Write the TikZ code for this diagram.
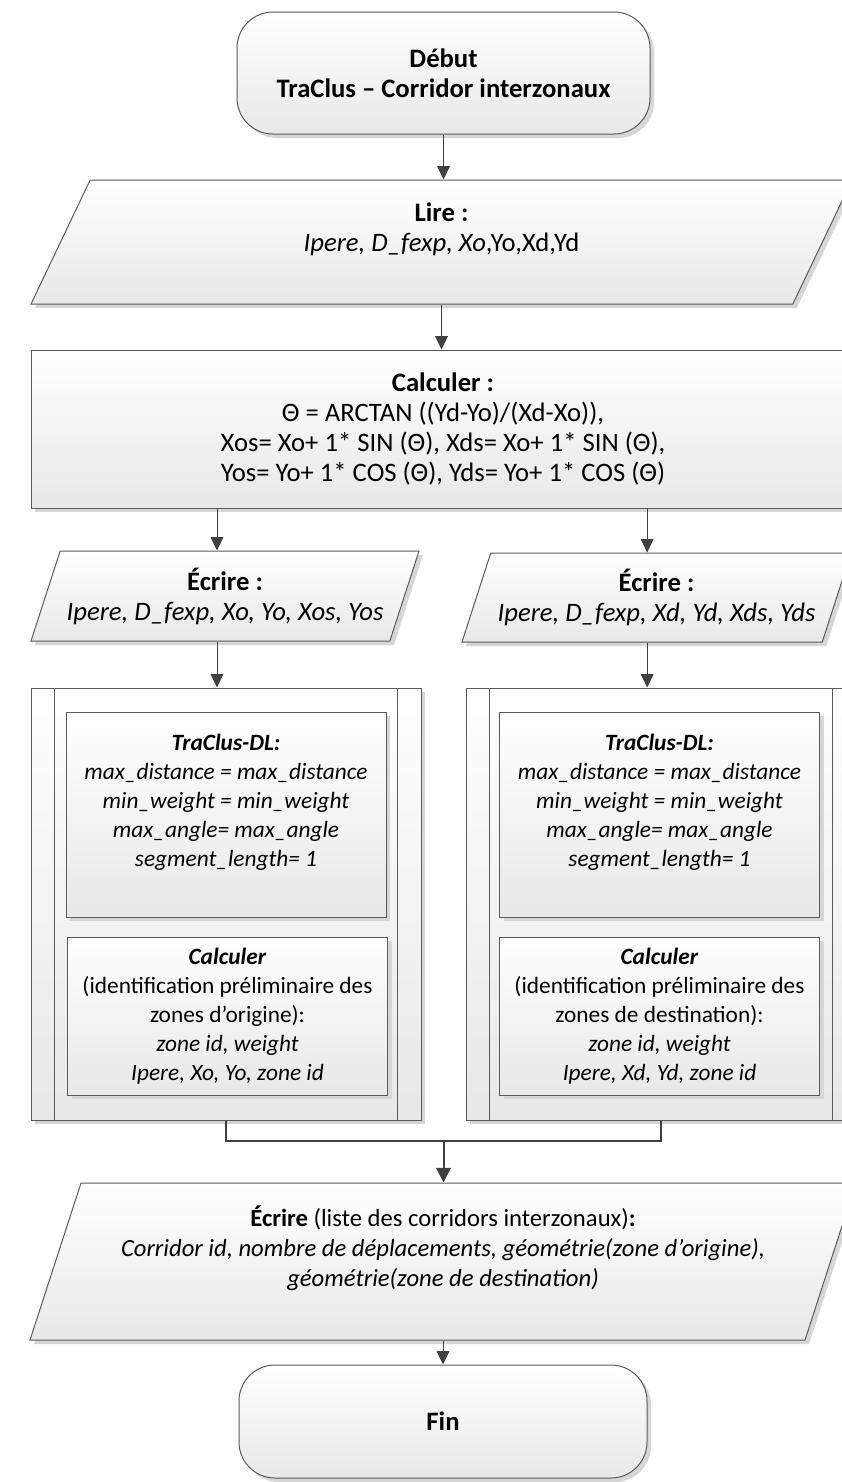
\documentclass[tikz,border=0pt]{standalone}
\usepackage{fontspec}
\setmainfont{Carlito}
\usetikzlibrary{arrows.meta,calc,shapes.geometric,shadows}
\definecolor{ink}{HTML}{000000}
\definecolor{edgegray}{HTML}{5A5A5A}
\definecolor{arrowgray}{HTML}{404040}
\definecolor{shadegray}{HTML}{E8E8E8}
\definecolor{shadowgray}{HTML}{D6D6D6}
\tikzset{
  box/.style={
    draw=edgegray,
    line width=0.75pt,
    top color=white,
    bottom color=shadegray,
    drop shadow={shadow xshift=3pt,shadow yshift=-3pt,fill=shadowgray,opacity=1},
    align=center,
    text=ink,
    inner sep=4pt,
    font=\fontsize{20}{22.5}\selectfont
  },
  terminal/.style={box,rounded corners=27pt,minimum width=309.75pt,minimum height=91.5pt},
  process/.style={box,minimum width=618pt,minimum height=118.5pt},
  io/.style={box,trapezium,trapezium stretches body,inner xsep=0pt,
    trapezium left angle=#1,trapezium right angle={180-#1}},
  subproc/.style={box,minimum width=292.5pt,minimum height=324pt},
  inner/.style={box,minimum width=240pt,font=\fontsize{17.5}{21.75}\selectfont},
  flow/.style={-{Triangle[length=10pt,width=9.5pt]},draw=arrowgray,line width=0.75pt},
  merge/.style={draw=arrowgray,line width=1.5pt},
  merge flow/.style={merge,-{Triangle[length=11pt,width=11pt]}}
}

\begin{document}
\begin{tikzpicture}[x=0.75pt,y=-0.75pt]
  \useasboundingbox (0,0) rectangle (842,1482);
  \clip (0,0) rectangle (842,1482);

  \node[terminal] (start) at (443.5,73)
    {\textbf{Début}\\\textbf{TraClus – Corridor interzonaux}};
  \node[io=56.5,minimum width=615.75pt,minimum height=93pt] (lire) at (441.5,242)
    {\textbf{Lire :}\\\textit{Ipere, D\_fexp, Xo},Yo,Xd,Yd\\\mbox{}};
  \node[process] (calc) at (443,429)
    {\textbf{Calculer :}\\
     Θ = ARCTAN ((Yd-Yo)/(Xd-Xo)),\\
     Xos= Xo+ 1* SIN (Θ), Xds= Xo+ 1* SIN (Θ),\\
     Yos= Yo+ 1* COS (Θ), Yds= Yo+ 1* COS (Θ)};

  \node[io=66.6,minimum width=291pt,minimum height=67.5pt] (ecrl) at (225,596)
    {\textbf{Écrire :}\\\textit{Ipere, D\_fexp, Xo, Yo, Xos, Yos}};
  \node[io=66.9,minimum width=291.75pt,minimum height=66.75pt] (ecrr) at (656.5,597.5)
    {\textbf{Écrire :}\\\textit{Ipere, D\_fexp, Xd, Yd, Xds, Yds}};

  \node[subproc] (subl) at (226,904) {};
  \node[subproc] (subr) at (661,904) {};
  \draw[draw=edgegray,line width=0.75pt]
    ([xshift=18pt]subl.north west) -- ([xshift=18pt]subl.south west);
  \draw[draw=edgegray,line width=0.75pt]
    ([xshift=-18pt]subl.north east) -- ([xshift=-18pt]subl.south east);
  \draw[draw=edgegray,line width=0.75pt]
    ([xshift=18pt]subr.north west) -- ([xshift=18pt]subr.south west);
  \draw[draw=edgegray,line width=0.75pt]
    ([xshift=-18pt]subr.north east) -- ([xshift=-18pt]subr.south east);

  \node[inner,minimum height=153.75pt] (dll) at (226,814.5)
    {\textbf{\textit{TraClus-DL:}}\\
     \textit{max\_distance = max\_distance}\\
     \textit{min\_weight = min\_weight}\\
     \textit{max\_angle= max\_angle}\\
     \textit{segment\_length= 1}\\\mbox{}};
  \node[inner,minimum height=118.5pt] (zonel) at (227.5,1016)
    {\textbf{\textit{Calculer}}\\
     (identification préliminaire des\\
     zones d’origine):\\
     \textit{zone id, weight}\\
     \textit{Ipere, Xo, Yo, zone id}};
  \node[inner,minimum height=153.75pt] (dlr) at (659.5,814.5)
    {\textbf{\textit{TraClus-DL:}}\\
     \textit{max\_distance = max\_distance}\\
     \textit{min\_weight = min\_weight}\\
     \textit{max\_angle= max\_angle}\\
     \textit{segment\_length= 1}\\\mbox{}};
  \node[inner,minimum height=118.5pt] (zoner) at (659.5,1016)
    {\textbf{\textit{Calculer}}\\
     (identification préliminaire des\\
     zones de destination):\\
     \textit{zone id, weight}\\
     \textit{Ipere, Xd, Yd, zone id}};

  \node[io=67.2,minimum width=619.5pt,minimum height=117.75pt,
    font=\fontsize{18.5}{22.5}\selectfont] (final) at (443,1261.5)
    {\textbf{Écrire} (liste des corridors interzonaux)\textbf{:}\\
     \textit{Corridor id, nombre de déplacements, géométrie(zone d’origine),}\\
     \textit{géométrie(zone de destination)}\\\mbox{}};
  \node[terminal,minimum width=306pt,minimum height=84.75pt] (fin) at (443,1421.5)
    {\textbf{Fin}};

  \draw[flow] (start.south) -- (start.south |- lire.north);
  \draw[flow] (lire.center |- lire.south) -- (lire.center |- calc.north);
  \draw[flow] ([xshift=-6pt]ecrl.center |- calc.south) -- ([xshift=-6pt]ecrl.center |- ecrl.north);
  \draw[flow] ([xshift=-7pt]ecrr.center |- calc.south) -- ([xshift=-7pt]ecrr.center |- ecrr.north);
  \draw[flow] ([xshift=-6pt]ecrl.center |- ecrl.south) -- ([xshift=-6pt]ecrl.center |- subl.north);
  \draw[flow] ([xshift=-7pt]ecrr.center |- ecrr.south) -- ([xshift=-7pt]ecrr.center |- subr.north);

  \coordinate (join) at ($(subl.south)!0.5!(subr.south)+(0,20)$);
  \draw[merge] (subl.south) |- (join) -| (subr.south);
  \draw[merge flow] (join) -- (join |- final.north);
  \draw[flow] (fin.north |- final.south) -- (fin.north);
\end{tikzpicture}
\end{document}
